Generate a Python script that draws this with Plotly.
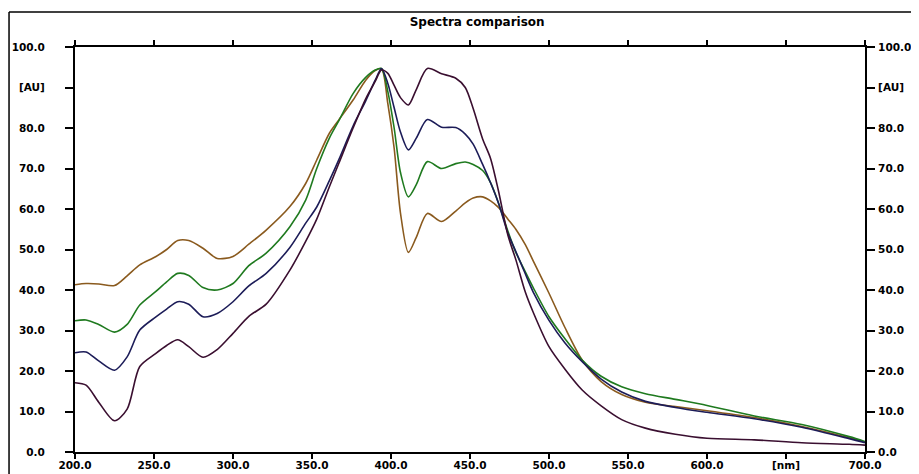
import plotly.graph_objects as go

# wavelength grid (nm)
WAVELENGTH = [200, 207, 215, 225, 233, 241, 251, 258, 265, 272, 281, 290, 300, 310, 321,
              336, 346, 353, 361, 367, 376, 384, 390, 394, 398, 402, 406, 411, 416, 423,
              432, 441, 447, 452, 458, 463, 468, 474, 479, 485, 490, 500, 510, 521, 533,
              546, 561, 580, 600, 630, 660, 690, 700]

BROWN_AU = [41.3, 41.6, 41.5, 41.1, 43.5, 46.2, 48.2, 50.0, 52.2, 52.2, 50.3, 47.8, 48.3, 51.3, 54.8,
            60.6, 66.3, 72.1, 78.7, 82.0, 86.9, 91.8, 94.2, 94.6, 86.0, 75.0, 59.0, 49.3, 53.0, 58.9,
            56.9, 59.5, 61.5, 62.7, 63.0, 62.0, 60.4, 57.5, 55.0, 51.2, 47.2, 39.2, 30.8, 22.7, 17.4,
            14.2, 12.3, 11.2, 10.2, 8.5, 6.3, 3.5, 2.4]

GREEN_AU = [32.4, 32.6, 31.5, 29.6, 31.5, 36.3, 39.6, 42.0, 44.1, 43.6, 40.6, 40.0, 41.6, 46.0, 49.1,
            55.6, 62.2, 70.0, 77.5, 81.8, 88.5, 92.5, 94.3, 94.7, 89.0, 80.0, 69.0, 63.0, 66.0, 71.7,
            70.0, 71.2, 71.6, 71.0, 69.5, 66.5, 61.5, 54.5, 49.3, 44.5, 40.6, 33.4, 28.0, 22.7, 18.7,
            16.1, 14.4, 13.0, 11.5, 8.9, 6.8, 3.8, 2.6]

NAVY_AU = [24.5, 24.7, 22.5, 20.2, 23.5, 30.1, 33.3, 35.3, 37.1, 36.5, 33.4, 34.2, 37.1, 41.0, 44.1,
           50.5, 56.5, 60.5, 67.0, 72.2, 80.5, 86.7, 91.8, 94.7, 91.0, 85.0, 79.0, 74.6, 77.5, 82.1,
           80.2, 80.1, 78.5, 76.0, 71.0, 66.5, 61.5, 54.0, 49.5, 44.0, 39.5, 32.5, 27.0, 22.3, 18.0,
           14.8, 12.5, 11.0, 9.8, 8.2, 6.1, 3.3, 2.3]

PURPLE_AU = [17.1, 16.5, 12.3, 7.7, 10.6, 21.1, 24.3, 26.3, 27.7, 26.0, 23.4, 25.3, 29.3, 33.5, 36.5,
             44.9, 52.0, 57.5, 65.5, 71.3, 80.0, 87.2, 91.5, 94.3, 93.5, 90.5, 87.5, 85.7, 89.5, 94.7,
             93.4, 92.3, 90.0, 84.8, 77.3, 72.5, 64.5, 53.5, 47.5, 39.5, 34.5, 26.0, 20.5, 15.3, 11.4,
             8.0, 5.9, 4.4, 3.4, 3.0, 2.3, 1.9, 1.7]

X_TICKS = [200, 250, 300, 350, 400, 450, 500, 550, 600, 650, 700]
X_LABELS = ["200.0", "250.0", "300.0", "350.0", "400.0", "450.0", "500.0", "550.0", "600.0", "[nm]", "700.0"]
Y_TICKS = [0, 10, 20, 30, 40, 50, 60, 70, 80, 90, 100]
Y_LABELS = ["0.0", "10.0", "20.0", "30.0", "40.0", "50.0", "60.0", "70.0", "80.0", "[AU]", "100.0"]

SERIES = [
    ("brown", BROWN_AU, "#8A5A1E"),
    ("green", GREEN_AU, "#1F7A1F"),
    ("navy", NAVY_AU, "#1C1C58"),
    ("purple", PURPLE_AU, "#3A0F30"),
]

TICK_FONT = dict(family="DejaVu Sans", size=10.5, color="#000000", weight="bold")

fig = go.Figure()
for name, vals, col in SERIES:
    fig.add_trace(go.Scatter(
        x=WAVELENGTH, y=vals, mode="lines", name=name,
        line=dict(color=col, width=1.6, shape="spline", smoothing=0.8),
        showlegend=False,
    ))

# dummy trace so the right-hand axis gets drawn
fig.add_trace(go.Scatter(x=[200], y=[0], yaxis="y2", mode="lines", showlegend=False,
                         line=dict(width=0), hoverinfo="skip"))

axis_common = dict(showgrid=False, zeroline=False, showline=True, linecolor="#000000",
                   linewidth=2, ticks="outside", tickcolor="#000000", tickwidth=1.5,
                   tickfont=TICK_FONT, automargin=False)

# page body has an 8px margin, so the figure is sized/margined to land on the same pixels
fig.update_layout(
    width=911, height=466,
    paper_bgcolor="white", plot_bgcolor="white",
    margin=dict(l=67, r=54, t=39, b=22),
    title=dict(text="Spectra comparison", x=0.515, xanchor="center", y=0.97, yanchor="middle",
               font=dict(family="DejaVu Sans", size=12, color="#000000", weight="bold")),
    xaxis=dict(range=[200, 700], tickvals=X_TICKS, ticktext=X_LABELS, ticklen=5,
               ticklabelstandoff=-3, mirror="ticks", **axis_common),
    yaxis=dict(range=[0, 100], tickvals=Y_TICKS, ticktext=Y_LABELS, ticklen=8,
               ticklabelstandoff=18, **axis_common),
    yaxis2=dict(range=[0, 100], tickvals=Y_TICKS, ticktext=Y_LABELS, ticklen=8,
                overlaying="y", side="right", ticklabelstandoff=1, **axis_common),
    shapes=[
        dict(type="line", xref="paper", yref="paper", x0=-0.0835, x1=1.2, y0=1.0864, y1=1.0864,
             line=dict(color="#000000", width=1.5)),
        dict(type="line", xref="paper", yref="paper", x0=-0.0835, x1=-0.0835, y0=1.0864, y1=-0.2,
             line=dict(color="#000000", width=1.5)),
    ],
)

fig.write_html("out.html")
